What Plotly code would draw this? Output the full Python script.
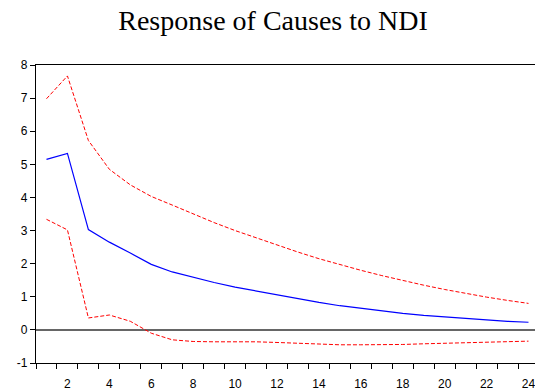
import plotly.graph_objects as go

periods = list(range(1, 25))
response = [5.15, 5.33, 3.03, 2.65, 2.32, 1.98, 1.75, 1.58, 1.43, 1.29, 1.17, 1.06,
            0.94, 0.83, 0.73, 0.65, 0.57, 0.50, 0.44, 0.39, 0.34, 0.30, 0.26, 0.23]
upper = [6.98, 7.67, 5.72, 4.85, 4.38, 4.03, 3.77, 3.50, 3.24, 3.00, 2.78, 2.55,
         2.35, 2.15, 1.97, 1.80, 1.64, 1.49, 1.35, 1.22, 1.10, 0.99, 0.89, 0.80]
lower = [3.34, 3.02, 0.36, 0.45, 0.26, -0.10, -0.30, -0.35, -0.36, -0.35, -0.36, -0.38,
         -0.41, -0.43, -0.45, -0.45, -0.45, -0.44, -0.42, -0.40, -0.39, -0.37, -0.36, -0.34]
x_tickvals = list(range(2, 25, 2))
x_ticktext = [str(v) for v in x_tickvals]
y_tickvals = list(range(-1, 9))
y_ticktext = [str(v) for v in y_tickvals]
title = "Response of Causes to NDI"

fig = go.Figure()
fig.add_trace(go.Scatter(x=periods, y=upper, mode="lines",
                         line=dict(color="#ff0000", width=1, dash="4px,2px")))
fig.add_trace(go.Scatter(x=periods, y=lower, mode="lines",
                         line=dict(color="#ff0000", width=1, dash="4px,2px")))
fig.add_trace(go.Scatter(x=periods, y=response, mode="lines",
                         line=dict(color="#0000ff", width=1.2)))

fig.update_layout(
    width=535, height=390,
    margin=dict(l=36, r=0, t=65, b=27),
    paper_bgcolor="white", plot_bgcolor="white",
    showlegend=False,
    font=dict(family="Liberation Sans, Arial", size=12, color="black"),
    title=dict(text=title, x=273 / 535, xref="container", xanchor="center",
               y=1 - 20 / 390, yref="container", yanchor="middle",
               font=dict(family="Liberation Serif, Times New Roman", size=28, color="black")),
    xaxis=dict(range=[0.5, 24.31], showline=True, linecolor="black", linewidth=1.3,
               mirror=True, showgrid=False, zeroline=False,
               tickmode="array", tickvals=x_tickvals, ticktext=x_ticktext,
               ticks="", ticklabelstandoff=9, ticklabeloverflow="allow",
               minor=dict(tick0=0.5, dtick=1, ticks="outside", ticklen=5,
                          tickcolor="black", tickwidth=1.3, showgrid=False)),
    yaxis=dict(range=[-1, 8], showline=True, linecolor="black", linewidth=1.3,
               showgrid=False, zeroline=True, zerolinecolor="#666666", zerolinewidth=1.5,
               tickmode="array", tickvals=y_tickvals, ticktext=y_ticktext,
               ticks="outside", ticklen=5, tickcolor="black", tickwidth=1.3),
)

fig.write_html("out.html")
